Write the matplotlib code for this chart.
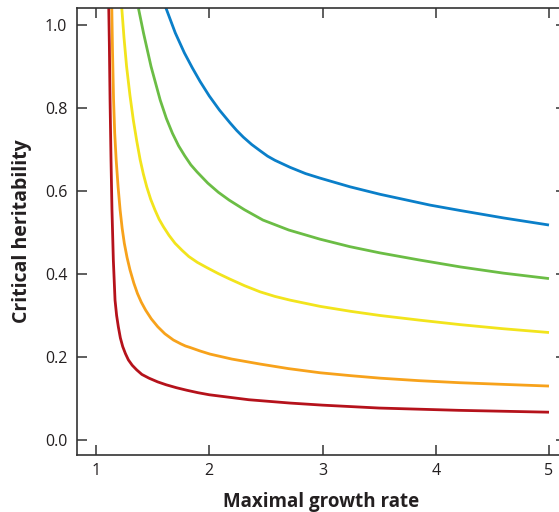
import matplotlib
matplotlib.use("Agg")
import matplotlib.pyplot as plt

# Data (x = maximal growth rate, y = critical heritability)
r_red = [1.112, 1.118, 1.124, 1.1325, 1.141, 1.153, 1.168, 1.182, 1.197, 1.215, 1.236, 1.26, 1.286,
         1.32, 1.359, 1.405, 1.468, 1.545, 1.62, 1.71, 1.80, 1.90, 2.0, 2.35, 2.714, 3.0, 3.5, 4.2, 5.0]
h_red = [1.05, 0.95, 0.82, 0.675, 0.554, 0.434, 0.337, 0.300, 0.273, 0.246, 0.225, 0.208, 0.193,
         0.180, 0.169, 0.158, 0.149, 0.140, 0.133, 0.126, 0.120, 0.114, 0.109, 0.097, 0.089, 0.084,
         0.077, 0.0715, 0.067]

r_orange = [1.139, 1.1456, 1.155, 1.165, 1.178, 1.195, 1.213, 1.231, 1.250, 1.274, 1.300, 1.334,
            1.366, 1.400, 1.438, 1.488, 1.545, 1.608, 1.683, 1.75, 1.79, 1.83, 1.919, 2.007, 2.2,
            2.449, 2.7, 2.979, 3.25, 3.509, 3.85, 4.216, 4.6, 5.0]
h_orange = [1.05, 0.94, 0.82, 0.74, 0.675, 0.61, 0.554, 0.51, 0.474, 0.44, 0.41, 0.378, 0.353,
            0.332, 0.313, 0.292, 0.273, 0.256, 0.241, 0.2315, 0.2265, 0.223, 0.2145, 0.207, 0.195,
            0.183, 0.172, 0.162, 0.155, 0.149, 0.143, 0.138, 0.134, 0.130]

r_yellow = [1.225, 1.247, 1.27, 1.30, 1.33, 1.36, 1.39, 1.418, 1.448, 1.483, 1.521, 1.557, 1.595,
            1.645, 1.698, 1.76, 1.82, 1.895, 1.975, 2.08, 2.18, 2.31, 2.449, 2.58, 2.714, 2.979,
            3.25, 3.509, 3.85, 4.216, 4.6, 5.0]
h_yellow = [1.05, 0.97, 0.90, 0.83, 0.77, 0.72, 0.675, 0.641, 0.610, 0.580, 0.554, 0.532, 0.514,
            0.493, 0.474, 0.457, 0.442, 0.428, 0.416, 0.401, 0.388, 0.372, 0.357, 0.346, 0.337,
            0.322, 0.310, 0.300, 0.289, 0.278, 0.268, 0.259]

r_green = [1.375, 1.420, 1.486, 1.567, 1.621, 1.675, 1.729, 1.783, 1.8375, 1.892, 1.987, 2.08,
           2.176, 2.31, 2.474, 2.702, 2.977, 3.24, 3.505, 3.85, 4.219, 4.6, 5.0]
h_green = [1.04, 0.98, 0.90, 0.819, 0.775, 0.739, 0.709, 0.685, 0.663, 0.646, 0.619, 0.597,
           0.578, 0.555, 0.530, 0.506, 0.484, 0.466, 0.451, 0.434, 0.417, 0.402, 0.389]

r_blue = [1.612, 1.70, 1.78, 1.85, 1.919, 2.0, 2.09, 2.184, 2.242, 2.30, 2.375, 2.449, 2.515,
          2.58, 2.714, 2.85, 2.979, 3.244, 3.509, 3.73, 3.95, 4.216, 4.6, 5.0]
h_blue = [1.045, 0.981, 0.933, 0.897, 0.864, 0.829, 0.795, 0.764, 0.746, 0.730, 0.712, 0.697,
          0.684, 0.674, 0.657, 0.642, 0.631, 0.610, 0.592, 0.579, 0.566, 0.553, 0.535, 0.518]

x_ticks = [1, 2, 3, 4, 5]
y_ticks = [0.0, 0.2, 0.4, 0.6, 0.8, 1.0]
y_tick_labels = ["0.0", "0.2", "0.4", "0.6", "0.8", "1.0"]

series = [
    (r_red, h_red, "#b5121b"),
    (r_orange, h_orange, "#f7a21b"),
    (r_yellow, h_yellow, "#f2e41c"),
    (r_green, h_green, "#6bbd45"),
    (r_blue, h_blue, "#0a7fc9"),
]

plt.rcParams["font.family"] = ["Open Sans", "DejaVu Sans"]

fig = plt.figure(figsize=(5.59, 5.12), dpi=100)
ax = fig.add_axes([77 / 559, 57 / 512, (566 - 77) / 559, (455 - 8) / 512])

for r, h, c in series:
    ax.plot(r, h, color=c, lw=2.0, solid_capstyle="butt", solid_joinstyle="round")

ax.set_xlim(1 - 19 / 113.2, 5 + 17 / 113.2)
ax.set_ylim(-15 / 415, 1 + 17 / 415)

ax.set_xticks(x_ticks)
ax.set_xticklabels([str(t) for t in x_ticks])
ax.set_yticks(y_ticks)
ax.set_yticklabels(y_tick_labels)

ax.tick_params(direction="in", length=7, width=1.1, color="#333333",
               top=True, right=True, labelsize=11.5, labelcolor="#231f20")
ax.tick_params(axis="y", pad=7)
ax.tick_params(axis="x", pad=6)

for s in ax.spines.values():
    s.set_linewidth(1.2)
    s.set_color("#333333")

ax.set_xlabel("Maximal growth rate", fontsize=13.5, fontweight="bold",
              color="#231f20", labelpad=9)
ax.set_ylabel("Critical heritability", fontsize=14, fontweight="bold",
              color="#231f20", labelpad=9)

fig.savefig("out.png", dpi=100)
